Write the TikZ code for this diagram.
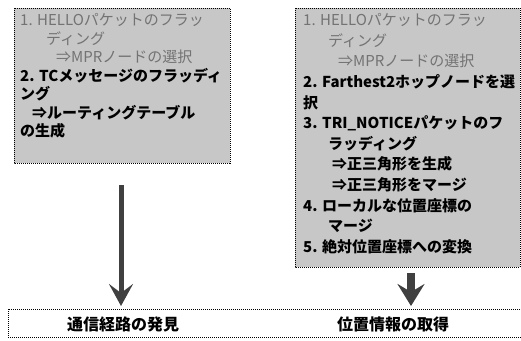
\documentclass[tikz,border=0pt]{standalone}
\usepackage{fontspec}
\newfontfamily\jp{Noto Sans CJK JP}
\usetikzlibrary{arrows.meta}
\begin{document}
\begin{tikzpicture}[x=1pt,y=-1pt,
  panel/.style={draw=black, dash pattern=on 1pt off 1pt, line width=0.8pt, fill=black!22},
  strip/.style={draw=black, dash pattern=on 1pt off 1pt, line width=0.8pt, fill=white},
  lite/.style={anchor=west, inner sep=0pt, font=\jp\fontsize{15}{15}\selectfont, text=black!55},
  bold/.style={anchor=west, inner sep=0pt, font=\jp\bfseries\fontsize{15}{15}\selectfont, text=black},
  big/.style={inner sep=0pt, font=\jp\bfseries\fontsize{16}{16}\selectfont, text=black},
  arr/.style={draw=black!75, line width=5pt, -{Stealth[length=22pt,width=24pt,inset=9pt]}}
]
\useasboundingbox (0,0) rectangle (521,340);
% panels
\path[panel] (14,8) rectangle (230,163);
\path[panel] (295,8) rectangle (520,267);
\path[strip] (530,309) -- (8,309) -- (8,337) -- (530,337);
% left text
\node[lite] (l1) at (20,20) {1. HELLOパケットのフラッ};
\node[lite] (l2) at (46,38.5) {ディング};
\node[lite] (l3) at (56,57) {⇒MPRノードの選択};
\node[bold] (l4) at (20,75.5) {2. TCメッセージのフラッディ};
\node[bold] (l5) at (20,94) {ング};
\node[bold] (l6) at (32,112.5) {⇒ルーティングテーブル};
\node[bold] (l7) at (20,131) {の生成};
% right text
\node[lite] (r1) at (303,20) {1. HELLOパケットのフラッ};
\node[lite] (r2) at (328,40.6) {ディング};
\node[lite] (r3) at (338,61.2) {⇒MPRノードの選択};
\node[bold] (r4) at (303,81.8) {2. Farthest2ホップノードを選};
\node[bold] (r5) at (303,102.4) {択};
\node[bold] (r6) at (303,123) {3. TRI\_NOTICEパケットのフ};
\node[bold] (r7) at (328,143.6) {ラッディング};
\node[bold] (r8) at (332,164.2) {⇒正三角形を生成};
\node[bold] (r9) at (332,184.8) {⇒正三角形をマージ};
\node[bold] (r10) at (303,205.4) {4. ローカルな位置座標の};
\node[bold] (r11) at (328,226) {マージ};
\node[bold] (r12) at (303,246.6) {5. 絶対位置座標への変換};
% bottom labels
\node[big] (b1) at (123,324) {通信経路の発見};
\node[big] (b2) at (393,324) {位置情報の取得};
% arrows
\node[coordinate] (la) at (121,185) {};
\node[coordinate] (lt) at (121,306) {};
\node[coordinate] (ra) at (411,273) {};
\node[coordinate] (rt) at (411,306) {};
\draw[arr] (la) -- (lt);
\draw[arr, line width=8pt, -{Stealth[length=22pt,width=27pt,inset=8pt]}] (ra) -- (rt);
\end{tikzpicture}
\end{document}
